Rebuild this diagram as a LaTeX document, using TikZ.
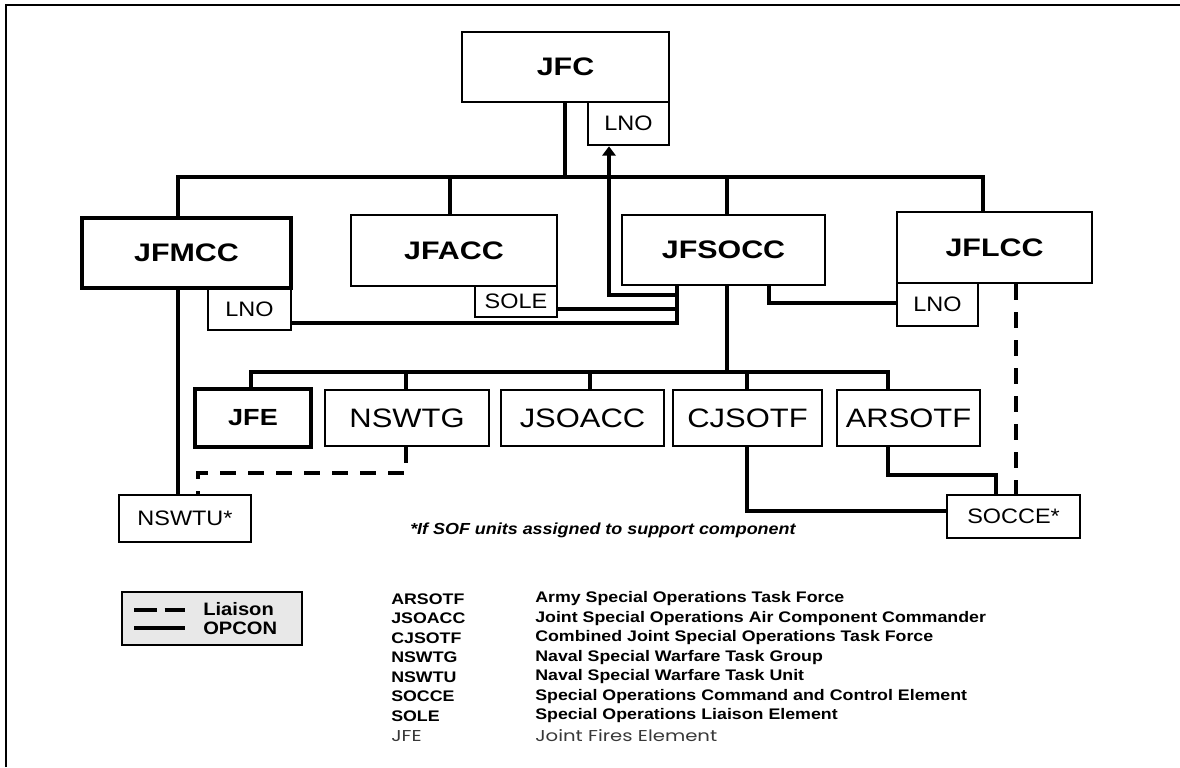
\documentclass[tikz,border=0pt]{standalone}
\usepackage{fontspec}
\setmainfont{Liberation Sans}
\newfontfamily\thinfont{Poppins}
\usetikzlibrary{fit,arrows.meta}
\newcommand\stT[1]{\scalebox{1.2}[1]{#1}}
\newcommand\stL[1]{\scalebox{1.16}[1]{#1}}
\newcommand\stS[1]{\scalebox{1.12}[1]{#1}}
\newcommand\stJ[1]{\scalebox{1.25}[1]{#1}}
\tikzset{
  box/.style={draw, line width=2pt, inner sep=0pt},
  heavybox/.style={box, line width=2.7pt},
  conn/.style={line width=3pt, line join=miter},
  liaison/.style={line width=2.6pt, dash pattern=on 12pt off 9pt},
  frame/.style={line width=1.8pt},
  toplbl/.style={inner sep=0pt, font=\fontsize{19}{21}\selectfont\bfseries},
  jfelbl/.style={inner sep=0pt, font=\fontsize{17.5}{19}\selectfont\bfseries},
  lowlbl/.style={inner sep=0pt, font=\fontsize{20}{22}\selectfont},
  smalllbl/.style={inner sep=0pt, font=\fontsize{15.7}{17}\selectfont},
  abbr/.style={anchor=west, inner sep=0pt, font=\fontsize{11.5}{13}\selectfont\bfseries},
  thinabbr/.style={anchor=west, inner sep=0pt, text=black!78, font=\fontsize{11.8}{13}\selectfont\thinfont},
  legtext/.style={anchor=west, inner sep=0pt, font=\fontsize{13.5}{15}\selectfont\bfseries},
}
\begin{document}
\begin{tikzpicture}[x=0.75pt,y=-0.75pt]
\useasboundingbox (0,0) rectangle (1180,767);
\fill[white] (0,0) rectangle (1180,767);
\coordinate (fr1) at (6,767); \coordinate (fr2) at (6,5); \coordinate (fr3) at (1180,5);
\draw[frame] (fr1) -- (fr2) -- (fr3);

% ---- boxes, upper part
\node[box, fit={(462,32)(669,102)}, label={[toplbl]center:\stT{JFC}}] (jfc) {};
\node[box, fit={(588,102)(669,145)}, label={[smalllbl]center:\stS{LNO}}] (jfclno) {};
\node[heavybox, fit={(82,218)(291,288)}, label={[toplbl]center:\stT{JFMCC}}] (jfmcc) {};
\node[box, fit={(208,288)(291,330)}, label={[smalllbl]center:\stS{LNO}}] (jfmcclno) {};
\node[box, fit={(351,215)(557,286)}, label={[toplbl]center:\stT{JFACC}}] (jfacc) {};
\node[box, fit={(475,286)(557,317)}, label={[smalllbl]center:\stS{SOLE}}] (sole) {};
\node[box, fit={(622,215)(825,285)}, label={[toplbl]center:\stT{JFSOCC}}] (jfsocc) {};
\node[box, fit={(897,212)(1092,283)}, label={[toplbl]center:\stT{JFLCC}}] (jflcc) {};
\node[box, fit={(897,283)(978,326)}, label={[smalllbl]center:\stS{LNO}}] (jflcclno) {};

% ---- lower row
\node[heavybox, fit={(195,389)(311,447)}, label={[jfelbl]center:\stL{JFE}}] (jfe) {};
\node[box, fit={(325,390)(489,446)}, label={[lowlbl]center:\stL{NSWTG}}] (nswtg) {};
\node[box, fit={(501,390)(664,446)}, label={[lowlbl]center:\stL{JSOACC}}] (jsoacc) {};
\node[box, fit={(673,390)(822,446)}, label={[lowlbl]center:\stL{CJSOTF}}] (cjsotf) {};
\node[box, fit={(837,390)(980,446)}, label={[lowlbl]center:\stL{ARSOTF}}] (arsotf) {};
\node[box, fit={(119,495)(251,542)}, label={[smalllbl]center:\stS{NSWTU*}}] (nswtu) {};
\node[box, fit={(947,495)(1080,538)}, label={[smalllbl]center:\stS{SOCCE*}}] (socce) {};

\node[anchor=west, inner sep=0pt, font=\fontsize{12}{14}\selectfont\bfseries\itshape] (note) at (410,530) {\scalebox{1.12}[1]{*If SOF units assigned to support component}};

% ---- upper bus
\coordinate (bL) at (178,177);
\coordinate (bR) at (983,177);
\coordinate (bC) at (565,177);
\coordinate (tA) at (450,177);
\coordinate (tS) at (727,177);
\draw[conn] (jfmcc.north -| bL) -- (bL) -- (bR) -- (jflcc.north -| bR);
\draw[conn] (jfc.south -| bC) -- (bC);
\draw[conn] (tA) -- (jfacc.north -| tA);
\draw[conn] (tS) -- (jfsocc.north -| tS);

% ---- JFSOCC liaison connections
\coordinate (v1) at (677,323);
\coordinate (v2) at (677,309);
\coordinate (v3) at (677,295);
\coordinate (a1) at (609,295);
\draw[conn] (jfsocc.south -| v1) -- (v1) -- (jfmcclno.east |- v1);
\draw[conn] (v2) -- (sole.east |- v2);
\draw[conn, -{Triangle[width=10pt,length=7pt]}] (v3) -- (a1) -- (jfclno.south -| a1);
\coordinate (l1) at (769,303);
\draw[conn] (jfsocc.south -| l1) -- (l1) -- (jflcclno.west |- l1);

% ---- lower bus
\coordinate (lb0) at (727,372);
\coordinate (lbL) at (251,372);
\coordinate (lbR) at (888,372);
\coordinate (t1) at (406,372);
\coordinate (t2) at (590,372);
\coordinate (t3) at (747,372);
\draw[conn] (jfsocc.south -| lb0) -- (lb0);
\draw[conn] (jfe.north -| lbL) -- (lbL) -- (lbR) -- (arsotf.north -| lbR);
\draw[conn] (t1) -- (nswtg.north -| t1);
\draw[conn] (t2) -- (jsoacc.north -| t2);
\draw[conn] (t3) -- (cjsotf.north -| t3);

% ---- JFMCC -> NSWTU, NSWTG -> NSWTU
\coordinate (m1) at (178,400);
\draw[conn] (jfmcc.south -| m1) -- (nswtu.north -| m1);
\coordinate (d1) at (406,473);
\coordinate (d2) at (198,473);
\draw[liaison] (nswtg.south -| d1) -- (d1) -- (d2) -- (nswtu.north -| d2);

% ---- to SOCCE
\coordinate (c1) at (747,511);
\draw[conn] (cjsotf.south -| c1) -- (c1) -- (socce.west |- c1);
\coordinate (r1) at (888,475);
\coordinate (r2) at (996,475);
\draw[conn] (arsotf.south -| r1) -- (r1) -- (r2) -- (socce.north -| r2);
\coordinate (j1) at (1016,400);
\draw[liaison] (jflcc.south -| j1) -- (socce.north -| j1);

% ---- legend
\node[box, line width=1.6pt, fill=black!9, fit={(122,592)(302,645)}] (legend) {};
\coordinate (k1) at (134,610); \coordinate (k2) at (185,610);
\coordinate (k3) at (134,628); \coordinate (k4) at (185,628);
\draw[line width=3.6pt, dash pattern=on 17pt off 6pt] (k1) -- (k2);
\draw[line width=3.6pt] (k3) -- (k4);
\node[legtext] (liaisontxt) at (203,609) {\stS{Liaison}};
\node[legtext] (opcontxt) at (203,628) {\stS{OPCON}};

% ---- abbreviations
\foreach \a/\d [count=\i] in {ARSOTF/Army Special Operations Task Force,
  JSOACC/Joint Special Operations Air Component Commander,
  CJSOTF/Combined Joint Special Operations Task Force,
  NSWTG/Naval Special Warfare Task Group,
  NSWTU/Naval Special Warfare Task Unit,
  SOCCE/Special Operations Command and Control Element,
  SOLE/Special Operations Liaison Element}{
  \node[abbr] (ab\i) at (391,{599+19.5*(\i-1)}) {\stL{\a}};
  \node[abbr] (df\i) at (535,{599+19.5*(\i-1)}) {\stL{\d}};
}
\node[thinabbr] (ab8) at (391,736) {\stJ{JFE}};
\node[thinabbr] (df8) at (535,736) {\stJ{Joint Fires Element}};
\end{tikzpicture}
\end{document}
